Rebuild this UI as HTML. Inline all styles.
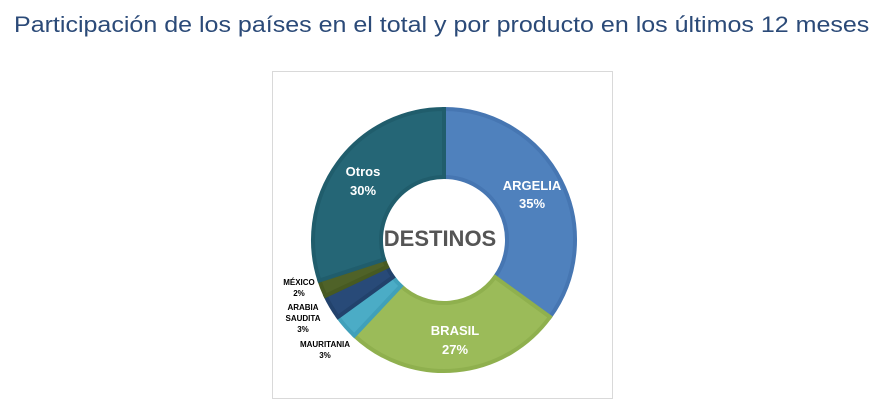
<!DOCTYPE html>
<html><head><meta charset="utf-8"><style>
body{margin:0;width:877px;height:409px;background:#fff;overflow:hidden;font-family:"Liberation Sans",sans-serif}
.t{position:absolute;left:14px;top:12px;font-size:22.5px;color:#2b4a78;white-space:nowrap;transform-origin:0 0;transform:scaleX(1.112)}
.box{position:absolute;left:272px;top:71px;width:339px;height:326px;border:1px solid #d9d9d9}
svg{position:absolute;left:0;top:0}
</style></head><body>
<div class="t">Participación de los países en el total y por producto en los últimos 12 meses</div>
<div class="box"></div>
<svg width="877" height="409" id="s">
<g id="sl"></g>
<g font-family="Liberation Sans,sans-serif" font-weight="bold" text-anchor="middle">
<text x="532" y="190" fill="#fff" font-size="13">ARGELIA</text>
<text x="532" y="208" fill="#fff" font-size="13">35%</text>
<text x="455" y="335" fill="#fff" font-size="13">BRASIL</text>
<text x="455" y="354" fill="#fff" font-size="13">27%</text>
<text x="363" y="176" fill="#fff" font-size="13">Otros</text>
<text x="363" y="195" fill="#fff" font-size="13">30%</text>
<text x="440" y="246" fill="#555" font-size="22">DESTINOS</text>
<g font-size="8" fill="#000">
<text x="299" y="285">MÉXICO</text><text x="299" y="296">2%</text>
<text x="303" y="310">ARABIA</text><text x="303" y="321">SAUDITA</text><text x="303" y="332">3%</text>
<text x="325" y="347">MAURITANIA</text><text x="325" y="358">3%</text>
</g></g>
</svg>
<script>
var cx=444,cy=240,R=131,r=63;
var d=[[35,"#4f81bd","#4676b2"],[27,"#9bbb59","#8fb04e"],[3,"#4bacc6","#40a0ba"],[3,"#284a78","#22426c"],[2,"#4f6228","#475a22"],[30,"#256676","#205d6c"]];
var a=0,h="";
function p(rr,t){t=t*Math.PI/180;return (cx+rr*Math.sin(t)).toFixed(2)+","+(cy-rr*Math.cos(t)).toFixed(2)}
d.forEach(function(s){var b=a+s[0]*3.6,l=(b-a)>180?1:0;
h+='<path d="M'+p(R,a)+'A'+R+','+R+' 0 '+l+' 1 '+p(R,b)+'L'+p(r,b)+'A'+r+','+r+' 0 '+l+' 0 '+p(r,a)+'Z" fill="'+s[1]+'" stroke="'+s[2]+'" stroke-width="4"/>';a=b;});
document.getElementById("sl").innerHTML=h;
</script>
</body></html>
